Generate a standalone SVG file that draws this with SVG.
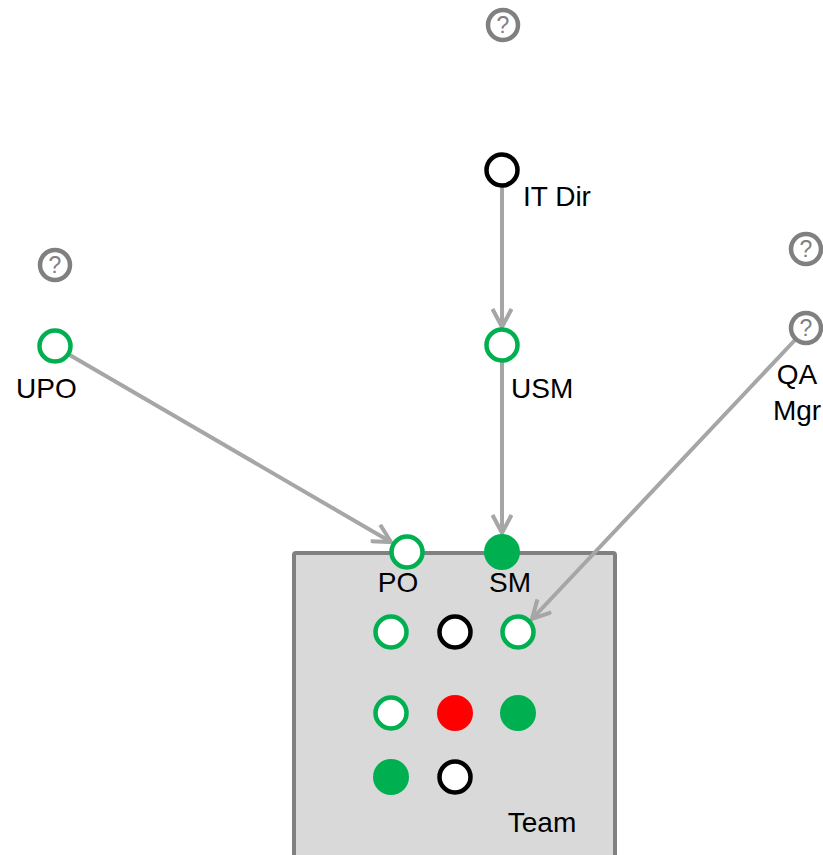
<svg xmlns="http://www.w3.org/2000/svg" width="823" height="855" viewBox="0 0 823 855">
<style>
.lbl{font-family:"Liberation Sans",Arial,sans-serif;font-size:28px;fill:#000}
.q{font-family:"Liberation Sans",Arial,sans-serif;font-size:23px;fill:#808080;text-anchor:middle}
.qc{fill:#fff;stroke:#808080;stroke-width:4.5}
.go{fill:#fff;stroke:#00b050;stroke-width:4.5}
.gf{fill:#00b050}
.bo{fill:#fff;stroke:#000;stroke-width:4.5}
.rf{fill:#ff0000}
.conn{stroke:#a6a6a6;stroke-width:4;fill:none;marker-end:url(#arr)}
</style>
<defs>
<marker id="arr" viewBox="0 0 22 22" refX="20" refY="11" markerWidth="22" markerHeight="22" markerUnits="userSpaceOnUse" orient="auto">
<path d="M2,1.5 L20,11 L2,20.5" fill="none" stroke="#a6a6a6" stroke-width="4" stroke-linejoin="miter"/>
</marker>
</defs>
<g id="team">
<rect x="294" y="553" width="321" height="320" rx="2" fill="#d9d9d9" stroke="#808080" stroke-width="4"/>
<text class="lbl" x="542" y="832" text-anchor="middle">Team</text>
</g>
<g id="connectors">
<line class="conn" x1="502" y1="187" x2="502" y2="327"/>
<line class="conn" x1="502" y1="362" x2="502" y2="533"/>
<line class="conn" x1="68" y1="354" x2="391" y2="542"/>
<line class="conn" x1="795" y1="340" x2="532" y2="619"/>
</g>
<g id="q-top"><circle class="qc" cx="503" cy="25" r="15"/><text class="q" x="503" y="33">?</text></g>
<g id="q-upo"><circle class="qc" cx="55" cy="265" r="15"/><text class="q" x="55" y="273">?</text></g>
<g id="q-qa"><circle class="qc" cx="806" cy="249" r="15"/><text class="q" x="806" y="257">?</text></g>
<g id="it-dir"><circle class="bo" cx="502" cy="170" r="15.5"/><text class="lbl" x="523" y="206">IT Dir</text></g>
<g id="usm"><circle class="go" cx="502" cy="345" r="15.5"/><text class="lbl" x="511" y="398">USM</text></g>
<g id="upo"><circle class="go" cx="55" cy="346" r="15.5"/><text class="lbl" x="16" y="398">UPO</text></g>
<g id="qa-mgr"><circle class="qc" cx="806" cy="328" r="15"/><text class="q" x="806" y="336">?</text><text class="lbl" x="797" y="384" text-anchor="middle">QA</text><text class="lbl" x="797" y="420" text-anchor="middle">Mgr</text></g>
<g id="po"><circle class="go" cx="407" cy="552" r="15.5"/><text class="lbl" x="398" y="592" text-anchor="middle">PO</text></g>
<g id="sm"><circle class="gf" cx="502" cy="552" r="18"/><text class="lbl" x="510" y="592" text-anchor="middle">SM</text></g>
<g id="m1"><circle class="go" cx="391" cy="632" r="15.5"/></g>
<g id="m2"><circle class="bo" cx="455" cy="632" r="15.5"/></g>
<g id="m3"><circle class="go" cx="518" cy="632" r="15.5"/></g>
<g id="m4"><circle class="go" cx="391" cy="713" r="15.5"/></g>
<g id="m5"><circle class="rf" cx="455" cy="713" r="18"/></g>
<g id="m6"><circle class="gf" cx="518" cy="713" r="18"/></g>
<g id="m7"><circle class="gf" cx="391" cy="777" r="18"/></g>
<g id="m8"><circle class="bo" cx="455" cy="777" r="15.5"/></g>
</svg>
